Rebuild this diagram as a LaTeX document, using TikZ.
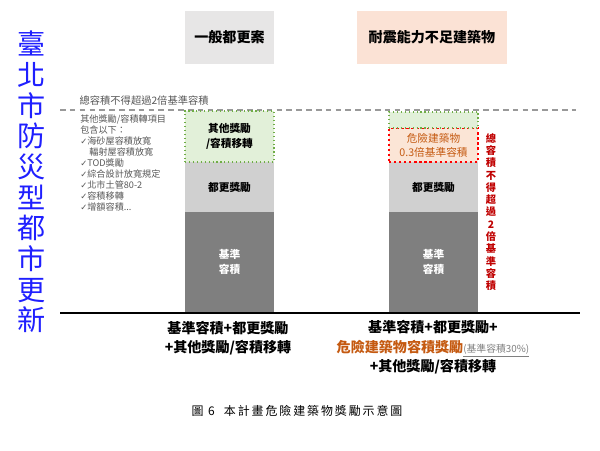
\documentclass[tikz,border=0pt]{standalone}
\usepackage{fontspec}
\setmainfont{Noto Sans CJK TC}
\newfontfamily\symfont{DejaVu Sans}
\newfontfamily\capfont[LetterSpace=16]{Noto Sans CJK TC}
\usepackage{tikz}
\usepackage{xcolor}
\usetikzlibrary{positioning, calc}
\definecolor{headgray}   {HTML}{E7E6E6}
\definecolor{headpeach}  {HTML}{FBE2D5}
\definecolor{greenfill}  {HTML}{E2F0D9}
\definecolor{greenstroke}{HTML}{70AD47}
\definecolor{dangerfill} {HTML}{FBE5D6}
\definecolor{dangerline} {HTML}{FF0000}
\definecolor{dangertext} {HTML}{C55A11}
\definecolor{lightbar}   {HTML}{D0D0D0}
\definecolor{darkbar}    {HTML}{7F7F7F}
\definecolor{notetext}   {HTML}{595959}
\definecolor{capred}     {HTML}{C00000}
\definecolor{titleblue}  {HTML}{1F1FFF}
\tikzset{
  headbox/.style={rectangle, minimum height=1.325cm, inner sep=0pt,
    font=\fontsize{10}{12}\selectfont\bfseries},
  barseg/.style={rectangle, minimum width=2.225cm, inner sep=0pt,
    outer sep=0pt, align=center,
    font=\fontsize{7.6}{10.5}\selectfont\bfseries},
  basebar/.style ={barseg, fill=darkbar, text=white, minimum height=2.5cm},
  urbanbar/.style={barseg, fill=lightbar, minimum height=1.25cm},
  extrabar/.style={barseg, fill=greenfill, draw=greenstroke, dotted,
    line width=0.8pt},
  dangerbar/.style={barseg, fill=dangerfill, draw=dangerline, dotted,
    line width=1.6pt, text=dangertext, font=\fontsize{7.6}{10}\selectfont},
  sumtext/.style={align=center, font=\fontsize{10}{13.9}\selectfont\bfseries}
}
\newcommand{\tick}{{\symfont\fontsize{6}{7}\selectfont ✓}}
\begin{document}
\begin{tikzpicture}[x=0.025cm, y=-0.025cm]

  \fill[white] (0,0) rectangle (600,450);
  \useasboundingbox (0,0) rectangle (600,450);

  %% TITLE
  \node[text=titleblue, align=center,
        font=\fontsize{20}{21.8}\selectfont] (title) at (32,182)
    {臺\\北\\市\\防\\災\\型\\都\\市\\更\\新};

  %% HEADERS
  \node[headbox, fill=headgray, minimum width=2.225cm] (hdr-l) at (229.5,37.5)
    {一般都更案};
  \node[headbox, fill=headpeach, minimum width=3.75cm] (hdr-r) at (432,37.5)
    {耐震能力不足建築物};

  %% CAP LINE
  \coordinate (cap-w) at (60,110);
  \coordinate (cap-e) at (576,110);
  \draw[gray!80, line width=0.8pt, dash pattern=on 4pt off 3pt] (cap-w) -- (cap-e);
  \node[anchor=south west, inner sep=1pt, text=notetext,
        font=\fontsize{7.3}{9}\selectfont] (cap-note) at (78,107)
    {總容積不得超過2倍基準容積};

  %% LEFT BAR
  \node[basebar, anchor=south] (base-l) at (229.5,312) {基準\\容積};
  \node[urbanbar, above=0pt of base-l] (urban-l) {都更獎勵};
  \node[extrabar, minimum height=1.275cm, above=0pt of urban-l] (extra-l)
    {其他獎勵\\/容積移轉};

  \node[anchor=north west, align=left, text=notetext, inner sep=0pt,
        font=\fontsize{6.5}{7.9}\selectfont] (list-l) at (80,114)
    {其他獎勵/容積轉項目\\
     包含以下：\\
     \tick 海砂屋容積放寬\\
     \phantom{\tick} 輻射屋容積放寬\\
     \tick TOD獎勵\\
     \tick 綜合設計放寬規定\\
     \tick 北市土管80-2\\
     \tick 容積移轉\\
     \tick 增額容積...};

  %% RIGHT BAR
  \node[basebar, anchor=south] (base-r) at (433.5,312) {基準\\容積};
  \node[urbanbar, above=0pt of base-r] (urban-r) {都更獎勵};
  \node[dangerbar, minimum height=0.85cm, above=0pt of urban-r] (danger-r)
    {危險建築物\\0.3倍基準容積};
  \node[extrabar, minimum height=0.4cm, above=0pt of danger-r] (extra-r) {};

  \node[text=capred, align=center,
        font=\fontsize{7.3}{8.75}\selectfont\bfseries] (cap-v) at (491,212)
    {總\\容\\積\\不\\得\\超\\過\\2\\倍\\基\\準\\容\\積};

  %% GROUND LINE
  \coordinate (gnd-w) at (60,313);
  \coordinate (gnd-e) at (580,313);
  \draw[black, line width=1.6pt] (gnd-w) -- (gnd-e);

  %% SUMS
  \node[sumtext] (sum-l) at (228,338)
    {基準容積+都更獎勵\\+其他獎勵/容積移轉};
  \node[sumtext] (sum-r) at (433,347.5)
    {基準容積+都更獎勵+\\
     {\color{dangertext}危險建築物容積獎勵}{\mdseries\fontsize{7}{9}\selectfont\color{gray}\underline{(基準容積30\%)}}\\
     +其他獎勵/容積移轉};

  %% CAPTION
  \node[font=\capfont\fontsize{8.5}{10}\selectfont] (caption) at (297,411)
    {圖 6\ \ 本計畫危險建築物獎勵示意圖};

\end{tikzpicture}
\end{document}
